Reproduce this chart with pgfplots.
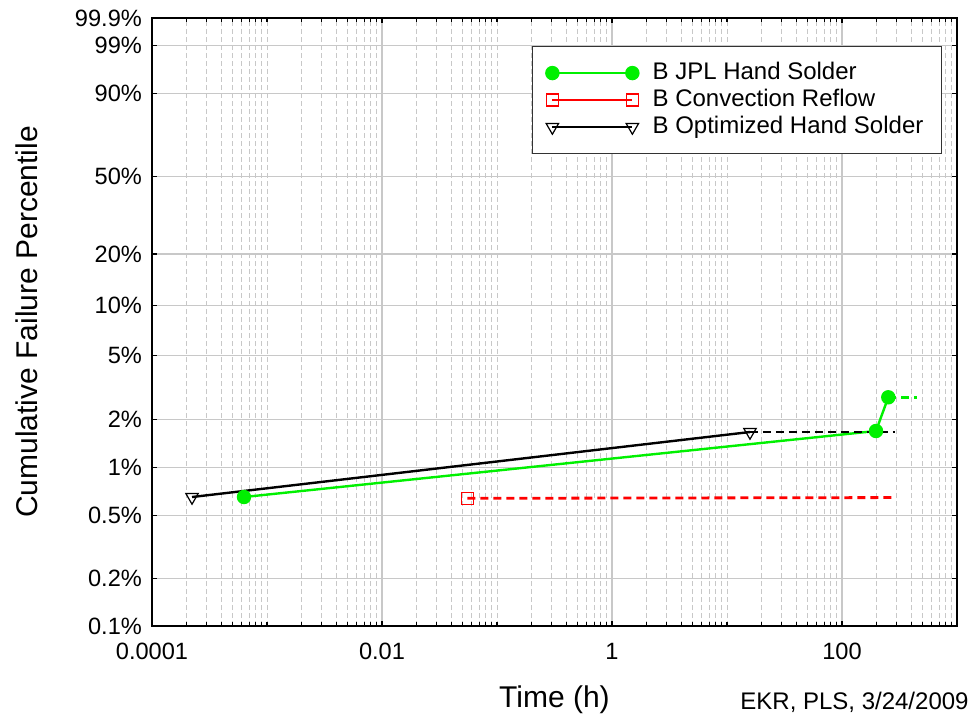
\documentclass[border=0pt]{standalone}
\usepackage{pgfplots}
\pgfplotsset{compat=1.18}
\usepackage{fontspec}
\setmainfont{Liberation Sans}
\definecolor{jplgreen}{RGB}{0,240,0}
\definecolor{gridgray}{RGB}{200,200,200}
\begin{document}
\begin{tikzpicture}
\begin{axis}[
  scale only axis, width=402.5pt, height=304pt,
  xmode=log, xmin=1e-4, xmax=1e3,
  ymin=-6.9073, ymax=1.9326,
  xtick={1e-4,1e-2,1,1e2}, xticklabels={0.0001,0.01,1,100},
  minor xtick={2e-4,3e-4,4e-4,5e-4,6e-4,7e-4,8e-4,9e-4,
    1e-3,2e-3,3e-3,4e-3,5e-3,6e-3,7e-3,8e-3,9e-3,
    2e-2,3e-2,4e-2,5e-2,6e-2,7e-2,8e-2,9e-2,
    0.1,0.2,0.3,0.4,0.5,0.6,0.7,0.8,0.9,
    2,3,4,5,6,7,8,9,
    10,20,30,40,50,60,70,80,90,
    200,300,400,500,600,700,800,900},
  % Weibull scale: y = ln(-ln(1-F))
  ytick={-6.9073,-6.2136,-5.2958,-4.6002,-3.9019,-2.9702,-2.2504,-1.4999,-0.3665,0.8340,1.5272,1.9326},
  yticklabels={0.1\%,0.2\%,0.5\%,1\%,2\%,5\%,10\%,20\%,50\%,90\%,99\%,99.9\%},
  grid=both,
  major grid style={solid,gridgray,line width=0.6pt},
  minor grid style={gridgray,line width=0.45pt,dash pattern=on 2.5pt off 1.5pt},
  tick style={black,line width=0.6pt},
  major tick length=2.5pt, minor tick length=2pt,
  axis line style={line width=0.8pt},
  tick label style={font=\fontsize{11.8}{13}\selectfont},
  yticklabel style={xshift=-1.5pt},
  xticklabel style={yshift=-5pt},
  /pgf/number format/assume math mode=true,
  xlabel={Time (h)}, ylabel={Cumulative Failure Percentile},
  label style={font=\fontsize{15}{18}\selectfont},
  xlabel style={at={(axis description cs:0.5,-0.1217)},anchor=center},
  ylabel style={at={(axis description cs:-0.1553,0.5)},anchor=center},
  legend image code/.code={\draw[#1] plot coordinates {(0pt,0pt) (40pt,0pt)};},
  legend cell align=left,
  legend style={at={(0.9814,0.954)},anchor=north east,
    draw=black!80,line width=0.6pt,fill=white,
    font=\fontsize{12}{14}\selectfont,
    inner xsep=7pt,inner ysep=6.5pt,row sep=0pt,column sep=5pt,
    nodes={inner xsep=2pt,inner ysep=0.75pt,text height=9pt,text depth=3pt}},
]
% B JPL Hand Solder
\addplot[jplgreen,line width=1.2pt,mark=*,mark size=3pt,
  mark options={solid,fill=jplgreen,draw=jplgreen}]
  coordinates {(6.31e-4,-5.032) (197.6,-4.072) (252.8,-3.582)};
\addlegendentry{B JPL Hand Solder}
% B Convection Reflow
\addplot[red,line width=1.2pt,mark=square,mark size=3pt,
  mark options={solid,line width=0.6pt}]
  coordinates {(0.0552,-5.051)};
\addlegendentry{B Convection Reflow}
% B Optimized Hand Solder
\addplot[black,line width=1.2pt,mark=triangle,mark size=3.6pt,
  mark options={solid,rotate=180,line width=0.6pt}]
  coordinates {(2.23e-4,-5.032) (15.85,-4.087)};
\addlegendentry{B Optimized Hand Solder}
% suspensions (dashed)
\addplot[jplgreen,line width=1.4pt,dash pattern=on 4pt off 2.5pt,forget plot]
  coordinates {(252.8,-3.582) (446,-3.582)};
\addplot[red,line width=1.4pt,dash pattern=on 4pt off 2.5pt,forget plot]
  coordinates {(0.0552,-5.051) (289,-5.040)};
\addplot[black,line width=1.4pt,dash pattern=on 4pt off 2.5pt,forget plot]
  coordinates {(15.85,-4.087) (289,-4.087)};
\coordinate (bl) at (axis description cs:-0.1888,-0.1595);
\coordinate (tr) at (axis description cs:1.0286,1.0296);
\coordinate (fn) at (axis description cs:1.0149,-0.125);
\end{axis}
\node[anchor=east,inner sep=0pt,font=\fontsize{12}{14}\selectfont] at (fn) {EKR, PLS, 3/24/2009};
\path (bl) rectangle (tr);
\end{tikzpicture}
\end{document}
